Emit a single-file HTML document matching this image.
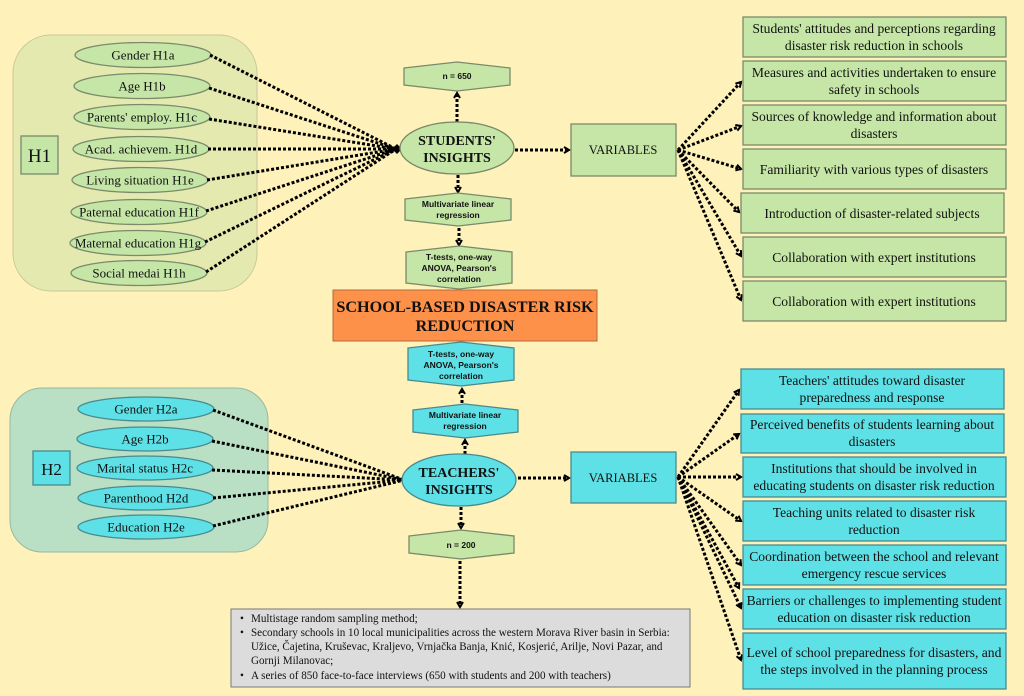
<!DOCTYPE html>
<html><head><meta charset="utf-8"><style>
body{margin:0;background:#fef1b9;}
svg{display:block}
.s{font-family:"Liberation Serif",serif;fill:#111}
.h{font-family:"Liberation Sans",sans-serif;font-weight:bold;fill:#111;font-size:8.5px}
.d{stroke:#000;stroke-width:3;stroke-dasharray:3 2;fill:none}
.g{fill:#c5e6a6;stroke:#7a8a6a;stroke-width:1.3}
.c{fill:#5ee1e6;stroke:#4a8a8e;stroke-width:1.3}
</style></head><body>
<svg width="1024" height="696" viewBox="0 0 1024 696" xmlns="http://www.w3.org/2000/svg">
<defs>
<marker id="a" markerWidth="8" markerHeight="8" refX="6" refY="4" orient="auto" markerUnits="userSpaceOnUse"><path d="M1,1 L6,4 L1,7" fill="none" stroke="#000" stroke-width="2"/></marker>
</defs>
<rect width="1024" height="696" fill="#fef1b9"/>
<!-- H1 group -->
<rect x="13" y="35" width="244" height="256" rx="38" fill="#e4e9b0" stroke="#c8c89a"/>
<rect x="21" y="136" width="37" height="38" class="g"/>
<text x="39.5" y="162" class="s" font-size="19" text-anchor="middle">H1</text>
<g class="s" font-size="13" text-anchor="middle">
<ellipse cx="143" cy="55" rx="68" ry="12.5" class="g"/><text x="143" y="59.5">Gender H1a</text>
<ellipse cx="142" cy="86" rx="68" ry="12.5" class="g"/><text x="142" y="90.5">Age H1b</text>
<ellipse cx="142" cy="117" rx="68" ry="12.5" class="g"/><text x="142" y="121.5">Parents' employ. H1c</text>
<ellipse cx="141" cy="149" rx="68" ry="12.5" class="g"/><text x="141" y="153.5">Acad. achievem. H1d</text>
<ellipse cx="140" cy="180" rx="68" ry="12.5" class="g"/><text x="140" y="184.5">Living situation H1e</text>
<ellipse cx="139" cy="212" rx="68" ry="12.5" class="g"/><text x="139" y="216.5">Paternal education H1f</text>
<ellipse cx="138" cy="243" rx="68" ry="12.5" class="g"/><text x="138" y="247.5">Maternal education H1g</text>
<ellipse cx="139" cy="273" rx="68" ry="12.5" class="g"/><text x="139" y="277.5">Social medai H1h</text>
</g>
<g class="d">
<path d="M210,55 L396,149"/><path d="M209,88 L396,149"/><path d="M209,119 L396,149"/><path d="M208,149 L396,149"/>
<path d="M207,180 L396,149"/><path d="M206,211 L396,149"/><path d="M205,242 L396,149"/><path d="M206,272 L396,149"/>
</g>
<path d="M392,149 L397,144 L402,149 L397,154Z" fill="#000"/>
<!-- H2 group -->
<rect x="10" y="388" width="258" height="164" rx="32" fill="#b9e0c4" stroke="#98b8a0"/>
<rect x="33" y="451" width="37" height="34" class="c"/>
<text x="51.5" y="475" class="s" font-size="17" text-anchor="middle">H2</text>
<g class="s" font-size="13" text-anchor="middle">
<ellipse cx="146" cy="409" rx="68" ry="12" class="c"/><text x="146" y="413.5">Gender H2a</text>
<ellipse cx="145" cy="439" rx="68" ry="12" class="c"/><text x="145" y="443.5">Age H2b</text>
<ellipse cx="145" cy="468" rx="68" ry="12" class="c"/><text x="145" y="472.5">Marital status H2c</text>
<ellipse cx="146" cy="498" rx="68" ry="12" class="c"/><text x="146" y="502.5">Parenthood H2d</text>
<ellipse cx="146" cy="527" rx="68" ry="12" class="c"/><text x="146" y="531.5">Education H2e</text>
</g>
<g class="d">
<path d="M213,410 L404,480"/><path d="M212,441 L404,480"/><path d="M212,470 L404,480"/><path d="M213,498 L404,480"/><path d="M213,526 L404,480"/>
</g>
<path d="M400,480 L405,475 L410,480 L405,485Z" fill="#000"/>
<!-- center students -->
<polygon points="404,68 457,62 510,68 510,85 457,91 404,85" class="g"/>
<text x="457" y="79" class="h" text-anchor="middle">n = 650</text>
<path d="M457,122 L457,93" class="d" marker-end="url(#a)"/>
<ellipse cx="457" cy="148" rx="57" ry="26" class="g"/>
<text x="457" y="145" class="s" font-size="14" font-weight="bold" text-anchor="middle">STUDENTS'</text>
<text x="457" y="162" class="s" font-size="14" font-weight="bold" text-anchor="middle">INSIGHTS</text>
<path d="M458,175 L458,192" class="d" marker-end="url(#a)"/>
<polygon points="405,199 458,193 511,199 511,220 458,226 405,220" class="g"/>
<text x="458" y="207" class="h" text-anchor="middle">Multivariate linear</text>
<text x="458" y="218" class="h" text-anchor="middle">regression</text>
<path d="M459,228 L459,245" class="d" marker-end="url(#a)"/>
<polygon points="406,252 459,246 512,252 512,283 459,289 406,283" class="g"/>
<text x="459" y="260" class="h" text-anchor="middle">T-tests, one-way</text>
<text x="459" y="271" class="h" text-anchor="middle">ANOVA, Pearson's</text>
<text x="459" y="282" class="h" text-anchor="middle">correlation</text>
<rect x="333" y="290" width="264" height="51" fill="#fd914a" stroke="#b56a3a"/>
<text x="465" y="312" class="s" font-size="16.2" font-weight="bold" text-anchor="middle">SCHOOL-BASED DISASTER RISK</text>
<text x="465" y="331" class="s" font-size="16.2" font-weight="bold" text-anchor="middle">REDUCTION</text>
<!-- teachers -->
<polygon points="408,348 461,342 514,348 514,380 461,386 408,380" class="c"/>
<text x="461" y="357" class="h" text-anchor="middle">T-tests, one-way</text>
<text x="461" y="368" class="h" text-anchor="middle">ANOVA, Pearson's</text>
<text x="461" y="379" class="h" text-anchor="middle">correlation</text>
<path d="M462,403 L462,389" class="d" marker-end="url(#a)"/>
<polygon points="413,410 465,404 518,410 518,432 465,438 413,432" class="c"/>
<text x="465" y="418" class="h" text-anchor="middle">Multivariate linear</text>
<text x="465" y="429" class="h" text-anchor="middle">regression</text>
<path d="M465,454 L465,440" class="d" marker-end="url(#a)"/>
<ellipse cx="459" cy="480" rx="57" ry="26" class="c"/>
<text x="459" y="477" class="s" font-size="14" font-weight="bold" text-anchor="middle">TEACHERS'</text>
<text x="459" y="494" class="s" font-size="14" font-weight="bold" text-anchor="middle">INSIGHTS</text>
<path d="M461,507 L461,528" class="d" marker-end="url(#a)"/>
<polygon points="409,536 461,530 514,536 514,553 461,559 409,553" class="g"/>
<text x="461" y="548" class="h" text-anchor="middle">n = 200</text>
<path d="M460,561 L460,607" class="d" marker-end="url(#a)"/>
<rect x="231" y="609" width="459" height="78" fill="#dcdcdc" stroke="#777"/>
<g class="s" font-size="11.1">
<text x="240" y="622">•</text><text x="251" y="622">Multistage random sampling method;</text>
<text x="240" y="636">•</text><text x="251" y="636">Secondary schools in 10 local municipalities across the western Morava River basin in Serbia:</text>
<text x="251" y="650">Užice, Čajetina, Kruševac, Kraljevo, Vrnjačka Banja, Knić, Kosjerić, Arilje, Novi Pazar, and</text>
<text x="251" y="664">Gornji Milanovac;</text>
<text x="240" y="679">•</text><text x="251" y="679">A series of 850 face-to-face interviews (650 with students and 200 with teachers)</text>
</g>
<!-- variables -->
<path d="M515,150 L569,150" class="d" marker-end="url(#a)"/>
<rect x="571" y="124" width="105" height="52" class="g"/>
<text x="623" y="154" class="s" font-size="12.5" text-anchor="middle">VARIABLES</text>
<path d="M518,478 L569,478" class="d" marker-end="url(#a)"/>
<rect x="571" y="452" width="105" height="51" class="c"/>
<text x="623" y="482" class="s" font-size="12.5" text-anchor="middle">VARIABLES</text>
<g class="d">
<path d="M678,150 L741,82" marker-end="url(#a)"/><path d="M678,150 L741,126" marker-end="url(#a)"/>
<path d="M678,150 L741,169" marker-end="url(#a)"/><path d="M678,150 L739,212" marker-end="url(#a)"/>
<path d="M678,150 L741,256" marker-end="url(#a)"/><path d="M678,150 L741,300" marker-end="url(#a)"/>
<path d="M678,477 L739,390" marker-end="url(#a)"/><path d="M678,477 L739,434" marker-end="url(#a)"/>
<path d="M678,477 L741,477" marker-end="url(#a)"/><path d="M678,477 L741,521" marker-end="url(#a)"/>
<path d="M678,477 L741,565" marker-end="url(#a)"/><path d="M678,477 L739,588" marker-end="url(#a)"/>
<path d="M678,477 L741,608" marker-end="url(#a)"/><path d="M678,477 L741,660" marker-end="url(#a)"/>
</g>
<g class="s" font-size="13.6" text-anchor="middle">
<rect x="743" y="17" width="263" height="40" class="g"/><text x="874" y="33">Students' attitudes and perceptions regarding</text><text x="874" y="50">disaster risk reduction in schools</text>
<rect x="743" y="61" width="263" height="40" class="g"/><text x="874" y="77">Measures and activities undertaken to ensure</text><text x="874" y="94">safety in schools</text>
<rect x="743" y="105" width="263" height="40" class="g"/><text x="874" y="121">Sources of knowledge and information about</text><text x="874" y="138">disasters</text>
<rect x="743" y="149" width="263" height="40" class="g"/><text x="874" y="174">Familiarity with various types of disasters</text>
<rect x="741" y="193" width="263" height="40" class="g"/><text x="872" y="218">Introduction of disaster-related subjects</text>
<rect x="743" y="237" width="263" height="40" class="g"/><text x="874" y="262">Collaboration with expert institutions</text>
<rect x="743" y="281" width="263" height="40" class="g"/><text x="874" y="306">Collaboration with expert institutions</text>
<rect x="741" y="369" width="263" height="40" class="c"/><text x="872" y="385">Teachers' attitudes toward disaster</text><text x="872" y="402">preparedness and response</text>
<rect x="741" y="414" width="263" height="39" class="c"/><text x="872" y="429">Perceived benefits of students learning about</text><text x="872" y="446">disasters</text>
<rect x="743" y="457" width="263" height="40" class="c"/><text x="874" y="473">Institutions that should be involved in</text><text x="874" y="490">educating students on disaster risk reduction</text>
<rect x="743" y="501" width="263" height="40" class="c"/><text x="874" y="517">Teaching units related to disaster risk</text><text x="874" y="534">reduction</text>
<rect x="743" y="545" width="263" height="40" class="c"/><text x="874" y="561">Coordination between the school and relevant</text><text x="874" y="578">emergency rescue services</text>
<rect x="743" y="589" width="263" height="40" class="c"/><text x="874" y="605">Barriers or challenges to implementing student</text><text x="874" y="622">education on disaster risk reduction</text>
<rect x="743" y="633" width="263" height="56" class="c"/><text x="874" y="657">Level of school preparedness for  disasters, and</text><text x="874" y="674">the steps involved in the planning process</text>
</g>
</svg>
</body></html>
